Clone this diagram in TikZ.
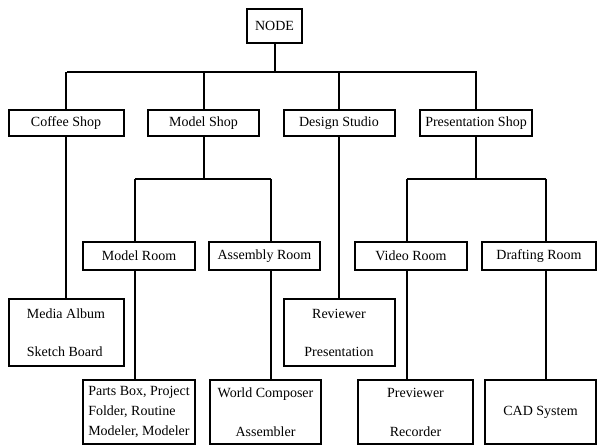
\documentclass[tikz,border=0pt]{standalone}
\usepackage{fontspec}
\setmainfont{Liberation Serif}
\usetikzlibrary{positioning}

\begin{document}
\begin{tikzpicture}[x=1pt, y=-1pt,
    box/.style={draw, line width=2pt, inner sep=2pt, font=\fontsize{14}{17}\selectfont},
    room/.style={box, minimum height=28pt},
    tool/.style={box, minimum height=64pt},
    link/.style={line width=2pt}]
    \useasboundingbox (0,0) rectangle (597,446);
    % Racine
    \node[box, minimum width=55pt, minimum height=34pt] (root) at (274.5,26) {NODE};
    % Niveau 1
    \foreach \x/\w/\name/\txt in {66/115/coffee/Coffee Shop, 203.5/111/mshop/Model Shop,
        339/111/design/Design Studio, 476/112/pshop/Presentation Shop} {
      \node[box, minimum width=\w pt, minimum height=26pt] (\name) at (\x,123) {\txt};
    }
    % Niveau 2
    \foreach \x/\w/\name/\txt in {139/112/mroom/Model Room, 264.5/111/aroom/Assembly Room,
        411/112/vroom/Video Room, 539/114/droom/Drafting Room} {
      \node[room, minimum width=\w pt] (\name) at (\x,256) {\txt};
    }
    % Outils
    \node[box, minimum width=115pt, minimum height=67pt, align=left] (media) at (66,332.5)
      {Media Album\\[21pt]Sketch Board};
    \node[box, minimum width=111pt, minimum height=67pt, align=center] (review) at (339,332.5)
      {Reviewer\\[21pt]Presentation};
    \node[tool, minimum width=112pt, align=left, font=\fontsize{14}{20}\selectfont] (parts) at (139,412)
      {Parts Box, Project\\Folder, Routine\\Modeler, Modeler};
    \node[tool, minimum width=111pt, align=center] (world) at (265.5,412)
      {World Composer\\[22pt]Assembler};
    \node[tool, minimum width=115pt, align=center] (preview) at (415.5,412)
      {Previewer\\[22pt]Recorder};
    \node[tool, minimum width=111pt] (cad) at (540.5,412) {CAD System};
    % Barres
    \coordinate (bus-l) at (67,72);
    \coordinate (bus-r) at (477,72);
    \coordinate (ms-l) at (135,179);
    \coordinate (ms-r) at (271,179);
    \coordinate (ps-l) at (407,179);
    \coordinate (ps-r) at (546,179);
    \draw[link] (root.south) -- (root.south |- bus-l);
    \draw[link] (bus-l) -- (bus-r);
    \foreach \name in {coffee, mshop, design, pshop} {
      \draw[link] (\name.north) -- (\name.north |- bus-l);
    }
    \draw[link] (coffee.south) -- (media.north);
    \draw[link] (design.south) -- (review.north);
    \draw[link] (mshop.south) -- (mshop.south |- ms-l);
    \draw[link] (ms-l) -- (ms-r);
    \draw[link] (pshop.south) -- (pshop.south |- ps-l);
    \draw[link] (ps-l) -- (ps-r);
    \draw[link] (ms-l) -- (ms-l |- mroom.north);
    \draw[link] (ms-r) -- (ms-r |- aroom.north);
    \draw[link] (ps-l) -- (ps-l |- vroom.north);
    \draw[link] (ps-r) -- (ps-r |- droom.north);
    \draw[link] (ms-l |- mroom.south) -- (ms-l |- parts.north);
    \draw[link] (ms-r |- aroom.south) -- (ms-r |- world.north);
    \draw[link] (ps-l |- vroom.south) -- (ps-l |- preview.north);
    \draw[link] (ps-r |- droom.south) -- (ps-r |- cad.north);
\end{tikzpicture}
\end{document}
